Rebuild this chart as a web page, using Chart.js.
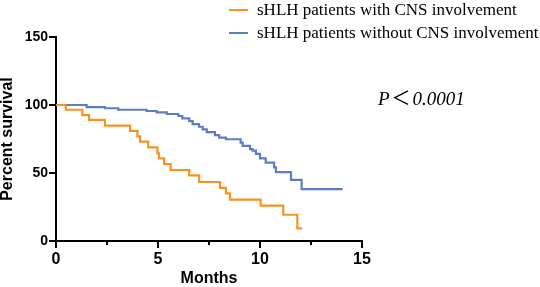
<!DOCTYPE html>
<html>
<head>
<meta charset="utf-8">
<script src="https://cdn.jsdelivr.net/npm/chart.js@4/dist/chart.umd.min.js"></script>
<style>
  html, body { margin: 0; padding: 0; background: #fff; }
  #wrap { width: 540px; height: 287px; position: relative; }
</style>
</head>
<body>
<div id="wrap"><canvas id="chart"></canvas></div>
<script>
// Survival data (months, percent)
const withCnsMonths = [0, 0.48, 1.29, 1.62, 2.4, 3.63, 3.99, 4.12, 4.52, 4.97, 5.05, 5.3, 5.62, 6.53, 7.02, 8.04, 8.33, 8.53, 10.03, 11.14, 11.83, 12.07];
const withCnsSurvival = [100, 96.5, 92.6, 89, 84.8, 81, 77, 73, 68.9, 64.5, 60.8, 56.6, 52.2, 48.3, 43.4, 39, 35, 30.4, 26, 19.3, 9.3, 9.3];

const withoutCnsMonths = [0, 1.5, 2.4, 3.05, 4.44, 4.93, 5.43, 6.0, 6.19, 6.53, 6.7, 7.01, 7.19, 7.39, 7.79, 8.0, 8.33, 9.05, 9.15, 9.51, 9.64, 9.8, 10.0, 10.28, 10.69, 10.78, 11.52, 12.04, 14.05];
const withoutCnsSurvival = [100, 98.5, 97.6, 96.5, 95.6, 94.6, 93.4, 91.9, 90.2, 88.2, 86, 84, 82.1, 80.1, 77.9, 76, 74.8, 72.3, 69.9, 67.6, 66.4, 64, 60.8, 57.6, 54.2, 50.7, 44.9, 38.2, 38.2];

const seriesLabels = ['sHLH patients with CNS involvement', 'sHLH patients without CNS involvement'];
const seriesColors = ['rgb(247,146,34)', 'rgb(94,124,193)'];
const xTicks = [0, 5, 10, 15];
const yTicks = [0, 50, 100, 150];
const pValueParts = ['P', '\uFF1C', '0.0001'];

const toPoints = (xs, ys) => xs.map((x, i) => ({ x: x, y: ys[i] }));

// legend + p-value text, drawn outside the plot area
const annotate = {
  id: 'annotate',
  afterDraw(chart) {
    const ctx = chart.ctx;
    ctx.save();
    chart.data.datasets.forEach((ds, i) => {
      const y = 10 + i * 23;
      ctx.strokeStyle = ds.borderColor;
      ctx.lineWidth = 2;
      ctx.beginPath();
      ctx.moveTo(229, y);
      ctx.lineTo(248, y);
      ctx.stroke();
      ctx.fillStyle = '#000';
      ctx.font = '17px "Liberation Serif", "Times New Roman", serif';
      ctx.textBaseline = 'alphabetic';
      ctx.fillText(ds.label, 257, y + 4.5);
    });

    // p-value: italic serif with a wide full-width "<"
    const serifItalic = 'italic 19px "Liberation Serif", "Times New Roman", serif';
    const cjk = '19px "Noto Sans CJK SC", sans-serif';
    let px = 378;
    pValueParts.forEach((t, i) => {
      ctx.font = i === 1 ? cjk : serifItalic;
      ctx.fillText(t, px, 105);
      px += ctx.measureText(t).width + 2;
    });

    // short minor ticks at half steps
    const xs = chart.scales.x;
    ctx.strokeStyle = '#000';
    ctx.lineWidth = 2;
    for (let i = 0; i < xTicks.length - 1; i++) {
      const tx = xs.getPixelForValue((xTicks[i] + xTicks[i + 1]) / 2);
      ctx.beginPath();
      ctx.moveTo(tx, xs.top);
      ctx.lineTo(tx, xs.top + 4);
      ctx.stroke();
    }
    ctx.restore();
  }
};

new Chart(document.getElementById('chart'), {
  type: 'line',
  data: {
    datasets: [
      {
        label: seriesLabels[0],
        data: toPoints(withCnsMonths, withCnsSurvival),
        borderColor: seriesColors[0],
        borderWidth: 2.2,
        stepped: true,
        pointRadius: 0,
        fill: false
      },
      {
        label: seriesLabels[1],
        data: toPoints(withoutCnsMonths, withoutCnsSurvival),
        borderColor: seriesColors[1],
        borderWidth: 2.2,
        stepped: true,
        pointRadius: 0,
        fill: false
      }
    ]
  },
  options: {
    animation: false,
    responsive: true,
    maintainAspectRatio: false,
    layout: { padding: { left: 0, top: 37, right: 178, bottom: 0 } },
    plugins: {
      legend: { display: false },
      tooltip: { enabled: false }
    },
    scales: {
      x: {
        type: 'linear',
        min: 0,
        max: 15,
        afterBuildTicks: (s) => { s.ticks = xTicks.map(v => ({ value: v })); },
        afterFit: (s) => { s.height = 46; },
        ticks: {
          color: '#000',
          padding: 2,
          font: { family: '"Liberation Sans", Arial, sans-serif', size: 16, weight: 'bold' }
        },
        grid: { drawOnChartArea: false, drawTicks: true, tickLength: 7, color: '#000', lineWidth: 2 },
        border: { color: '#000', width: 2 },
        title: {
          display: true,
          text: 'Months',
          color: '#000',
          padding: 0,
          font: { family: '"Liberation Sans", Arial, sans-serif', size: 16, weight: 'bold', lineHeight: 1 }
        }
      },
      y: {
        min: 0,
        max: 150,
        afterBuildTicks: (s) => { s.ticks = yTicks.map(v => ({ value: v })); },
        afterFit: (s) => { s.width = 56; },
        ticks: {
          color: '#000',
          padding: 1,
          font: { family: '"Liberation Sans", Arial, sans-serif', size: 14, weight: 'bold' }
        },
        grid: { drawOnChartArea: false, drawTicks: true, tickLength: 7, color: '#000', lineWidth: 2 },
        border: { color: '#000', width: 2 },
        title: {
          display: true,
          text: 'Percent survival',
          color: '#000',
          padding: 0,
          font: { family: '"Liberation Sans", Arial, sans-serif', size: 16, weight: 'bold', lineHeight: 1 }
        }
      }
    }
  },
  plugins: [annotate]
});
</script>
</body>
</html>
